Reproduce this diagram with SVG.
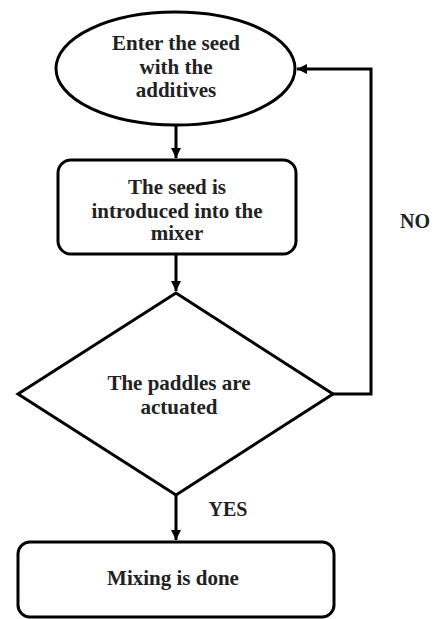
<svg xmlns="http://www.w3.org/2000/svg" width="435" height="619" viewBox="0 0 435 619">
<defs>
<marker id="ah" viewBox="0 0 10 10" refX="10" refY="5" markerWidth="10" markerHeight="10" markerUnits="userSpaceOnUse" orient="auto">
<path d="M0,0 L10,5 L0,10 Z" fill="#000"/>
</marker>
<style>
.shape{fill:#fff;stroke:#000;stroke-width:3}
.conn{fill:none;stroke:#000;stroke-width:3}
text{font-family:"Liberation Serif","Times New Roman",serif;font-weight:bold;font-size:21px;fill:#222;text-anchor:middle}
</style>
</defs>
<rect width="435" height="619" fill="#fff"/>
<g id="connectors">
<path class="conn" d="M176,125 L176,158" marker-end="url(#ah)"/>
<path class="conn" d="M176,254 L176,291" marker-end="url(#ah)"/>
<path class="conn" d="M176,495 L176,540" marker-end="url(#ah)"/>
<path class="conn" d="M333,394 L371,394 L371,69 L297,69" marker-end="url(#ah)"/>
<text x="415" y="228" style="font-size:20px">NO</text>
<text x="228" y="516" style="font-size:20px">YES</text>
</g>
<g id="start">
<ellipse class="shape" cx="175.5" cy="68.5" rx="119.5" ry="56.5"/>
<text x="176" y="50">Enter the seed</text>
<text x="176" y="74">with the</text>
<text x="176" y="97">additives</text>
</g>
<g id="introduce">
<rect class="shape" x="58" y="160" width="238" height="94" rx="13"/>
<text x="177" y="194">The seed is</text>
<text x="177" y="218">introduced into the</text>
<text x="177" y="240">mixer</text>
</g>
<g id="decision">
<path class="shape" d="M176,293 L333,394 L176,495 L18,394 Z"/>
<text x="179" y="390">The paddles are</text>
<text x="179" y="414">actuated</text>
</g>
<g id="done">
<rect class="shape" x="18" y="542" width="316" height="75" rx="12"/>
<text x="173" y="585">Mixing is done</text>
</g>
</svg>
